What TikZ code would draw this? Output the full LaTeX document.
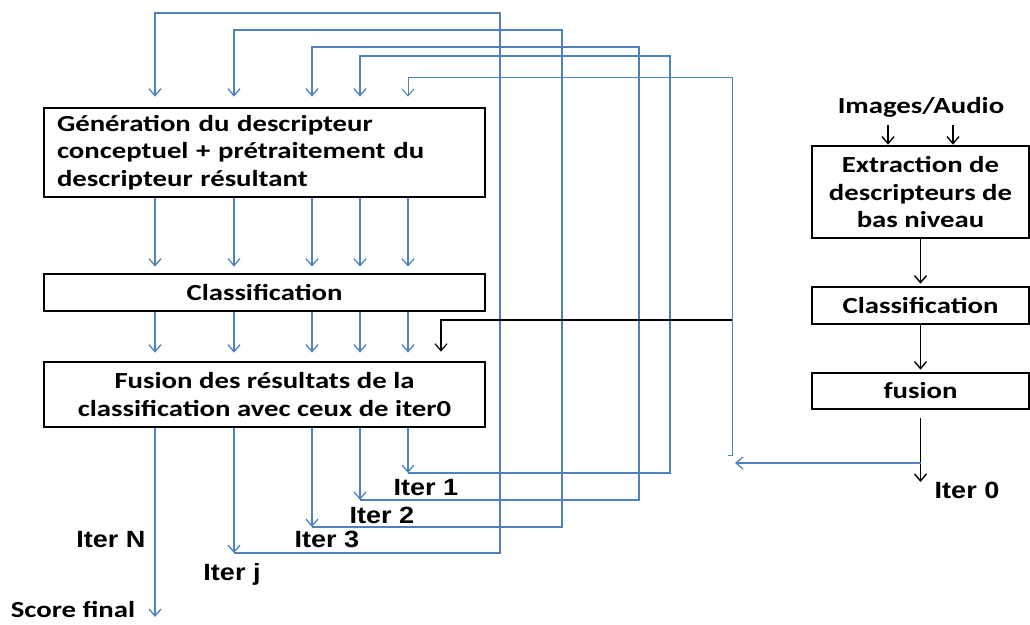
\documentclass[tikz,border=0pt]{standalone}
\usepackage{fontspec}
\newfontfamily\calfont[FakeStretch=1.25]{Carlito}
\newfontfamily\arialfont[FakeStretch=1.15]{Liberation Sans}
\usetikzlibrary{arrows.meta}
\definecolor{flowblue}{RGB}{79,129,189}

\begin{document}
\begin{tikzpicture}[x=1pt,y=-1pt,
	box/.style={draw=black,line width=2.7pt,inner sep=0pt,font=\calfont\bfseries\fontsize{23}{27.5}\selectfont},
	txt/.style={inner sep=0pt,anchor=base,font=\calfont\bfseries\fontsize{23}{27.5}\selectfont},
	lab/.style={inner sep=0pt,anchor=base,font=\arialfont\bfseries\fontsize{23.5}{28}\selectfont},
	bl/.style={flowblue,line width=1.3pt},
	blarr/.style={bl,-{Straight Barb[length=7pt,width=12pt]}},
	karr/.style={black,line width=1.4pt,-{Straight Barb[length=7pt,width=12pt]}}]
	\useasboundingbox (0,0) rectangle (1030,624);
	% left chain
	\node[box,minimum width=441pt,minimum height=89pt,text width=415pt,align=left] (gen) at (264.5,152.5) {Génération du descripteur\\conceptuel + prétraitement du\\descripteur résultant};
	\node[box,minimum width=441pt,minimum height=37pt] (cls) at (264.5,292.5) {Classification};
	\node[box,minimum width=441pt,minimum height=65pt,align=center] (fus) at (264.5,394.5) {Fusion des résultats de la\\classification avec ceux de iter0};
	% right chain
	\node[txt] (src) at (921,113) {Images/Audio};
	\node[box,minimum width=217pt,minimum height=92pt,align=center] (ext) at (920.5,192) {Extraction de\\descripteurs de\\bas niveau};
	\node[box,minimum width=217pt,minimum height=37pt] (cls0) at (920.5,305.5) {Classification};
	\node[box,minimum width=217pt,minimum height=36pt] (fus0) at (920.5,391) {fusion};
	% labels
	\node[lab] (it0) at (967,498) {Iter 0};
	\node[lab] (it1) at (426,495) {Iter 1};
	\node[lab] (it2) at (382,523) {Iter 2};
	\node[lab] (it3) at (327,547) {Iter 3};
	\node[lab] (itN) at (111,547) {Iter N};
	\node[lab] (itj) at (232,580) {Iter j};
	\node[txt] (score) at (73,617) {Score final};
	% columns
	\foreach \x [count=\i] in {155,234,312,360,408}
		\coordinate (c\i) at (\x,0);
	\foreach \i in {1,...,5} {
		\draw[blarr,shorten >=6pt] (gen.south -| c\i) -- (cls.north -| c\i);
		\draw[blarr,shorten >=8pt] (cls.south -| c\i) -- (fus.north -| c\i);
	}
	% feedback loops
	\coordinate (o1) at (408,473); \coordinate (r1) at (670,56);
	\coordinate (o2) at (360,500); \coordinate (r2) at (639,47);
	\coordinate (o3) at (312,527); \coordinate (r3) at (562,30);
	\coordinate (o4) at (234,553); \coordinate (r4) at (500,13);
	\draw[blarr] (fus.south -| c5) -- (o1);
	\draw[blarr,shorten >=10pt] (o1) -| (r1) -| (gen.north -| c4);
	\draw[blarr] (fus.south -| c4) -- (o2);
	\draw[blarr,shorten >=10pt] (o2) -| (r2) -| (gen.north -| c3);
	\draw[blarr] (fus.south -| c3) -- (o3);
	\draw[blarr,shorten >=10pt] (o3) -| (r3) -| (gen.north -| c2);
	\draw[blarr] (fus.south -| c2) -- (o4);
	\draw[blarr,shorten >=10pt] (o4) -| (r4) -| (gen.north -| c1);
	\coordinate (sN) at (155,617);
	\draw[blarr] (fus.south -| c1) -- (sN);
	% iter 0
	\coordinate (in1) at (888,125);
	\coordinate (in2) at (953,125);
	\draw[karr] (in1) -- (ext.north -| in1);
	\draw[karr] (in2) -- (ext.north -| in2);
	\draw[karr,shorten >=2pt] (ext.south) -- (cls0.north);
	\draw[karr,shorten >=2pt] (cls0.south) -- (fus0.north);
	\coordinate (e0) at (921,482);
	\draw[karr,shorten <=8pt] (fus0.south) -- (fus0.south |- e0);
	\coordinate (o0) at (921,463); \coordinate (a0) at (735,463);
	\draw[blarr] (o0) -- (a0);
	\coordinate (h0) at (728,455); \coordinate (r0) at (732,77);
	\draw[blarr,line width=1pt,shorten >=10pt] (h0) -- (r0 |- h0) -- (r0) -| (gen.north -| c5);
	\coordinate (k0) at (732,320); \coordinate (k1) at (441,0);
	\draw[karr,line width=1.2pt,shorten >=9pt] (k0) -| (fus.north -| k1);
\end{tikzpicture}
\end{document}
